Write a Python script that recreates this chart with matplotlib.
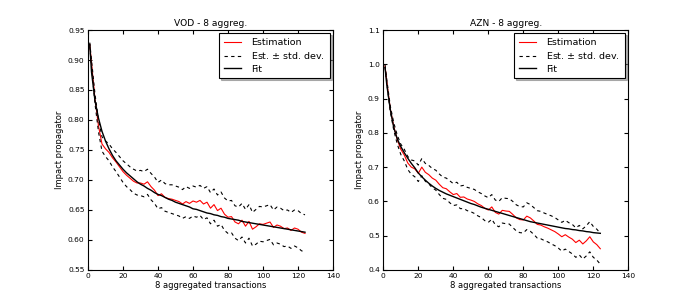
import numpy as np
import matplotlib
matplotlib.use("Agg")
from matplotlib import pyplot as plt

# x positions (aggregated transactions)
lags = [1, 2] + list(range(4, 125, 2))

# VOD
vod_est = [0.926, 0.895, 0.835, 0.790, 0.760, 0.752, 0.746, 0.737, 0.730, 0.722,
           0.714, 0.708, 0.703, 0.698, 0.695, 0.695, 0.693, 0.697, 0.689, 0.683,
           0.674, 0.677, 0.671, 0.669, 0.668, 0.666, 0.664, 0.660, 0.664, 0.661,
           0.665, 0.663, 0.666, 0.660, 0.663, 0.653, 0.659, 0.649, 0.653, 0.643,
           0.638, 0.639, 0.630, 0.627, 0.633, 0.623, 0.631, 0.618, 0.622, 0.627,
           0.626, 0.628, 0.630, 0.621, 0.625, 0.623, 0.619, 0.620, 0.616, 0.620,
           0.618, 0.613, 0.611]
vod_std = [0.003, 0.005, 0.008, 0.010, 0.012, 0.013, 0.014, 0.015, 0.016, 0.017,
           0.018, 0.019, 0.019, 0.020, 0.020, 0.021, 0.021, 0.021, 0.022, 0.022,
           0.022, 0.023, 0.023, 0.023, 0.024, 0.024, 0.024, 0.024, 0.025, 0.025,
           0.025, 0.025, 0.025, 0.026, 0.026, 0.026, 0.026, 0.026, 0.027, 0.027,
           0.027, 0.027, 0.027, 0.028, 0.028, 0.028, 0.028, 0.028, 0.029, 0.029,
           0.029, 0.029, 0.029, 0.029, 0.030, 0.030, 0.030, 0.030, 0.030, 0.030,
           0.031, 0.031, 0.031]
vod_fit = [0.926, 0.880, 0.832, 0.803, 0.781, 0.765, 0.752, 0.741, 0.732, 0.725,
           0.718, 0.712, 0.707, 0.702, 0.697, 0.693, 0.690, 0.686, 0.683, 0.679,
           0.676, 0.674, 0.671, 0.668, 0.666, 0.663, 0.661, 0.659, 0.657, 0.655,
           0.652, 0.651, 0.649, 0.647, 0.645, 0.644, 0.642, 0.641, 0.639, 0.638,
           0.636, 0.635, 0.634, 0.633, 0.631, 0.630, 0.629, 0.628, 0.627, 0.626,
           0.625, 0.624, 0.623, 0.622, 0.621, 0.620, 0.619, 0.618, 0.617, 0.616,
           0.615, 0.614, 0.613]

# AZN
azn_est = [0.995, 0.950, 0.870, 0.818, 0.780, 0.752, 0.735, 0.712, 0.700, 0.695,
           0.682, 0.700, 0.685, 0.678, 0.668, 0.662, 0.650, 0.640, 0.637, 0.628,
           0.620, 0.623, 0.612, 0.613, 0.607, 0.604, 0.600, 0.593, 0.588, 0.580,
           0.575, 0.584, 0.568, 0.563, 0.574, 0.572, 0.571, 0.562, 0.552, 0.547,
           0.546, 0.557, 0.552, 0.543, 0.533, 0.531, 0.526, 0.522, 0.517, 0.512,
           0.505, 0.497, 0.503, 0.496, 0.490, 0.480, 0.487, 0.476, 0.485, 0.497,
           0.482, 0.474, 0.462]
azn_std = [0.003, 0.005, 0.008, 0.011, 0.013, 0.015, 0.017, 0.019, 0.021, 0.023,
           0.024, 0.025, 0.026, 0.027, 0.028, 0.029, 0.030, 0.031, 0.031, 0.032,
           0.032, 0.033, 0.033, 0.034, 0.034, 0.034, 0.035, 0.035, 0.035, 0.036,
           0.036, 0.036, 0.036, 0.037, 0.037, 0.037, 0.037, 0.038, 0.038, 0.038,
           0.038, 0.039, 0.039, 0.039, 0.040, 0.040, 0.040, 0.040, 0.041, 0.041,
           0.041, 0.042, 0.042, 0.042, 0.043, 0.043, 0.043, 0.044, 0.044, 0.044,
           0.045, 0.045, 0.045]
azn_fit = [0.990, 0.940, 0.868, 0.815, 0.782, 0.760, 0.742, 0.726, 0.711, 0.698,
           0.683, 0.672, 0.662, 0.653, 0.645, 0.638, 0.632, 0.627, 0.622, 0.618,
           0.614, 0.610, 0.606, 0.602, 0.598, 0.594, 0.591, 0.587, 0.583, 0.580,
           0.577, 0.574, 0.571, 0.568, 0.565, 0.562, 0.559, 0.556, 0.553, 0.550,
           0.547, 0.544, 0.541, 0.539, 0.537, 0.535, 0.533, 0.531, 0.529, 0.527,
           0.525, 0.523, 0.521, 0.520, 0.518, 0.517, 0.515, 0.514, 0.512, 0.511,
           0.509, 0.508, 0.507]

panels = [
    ("VOD - 8 aggreg.", vod_est, vod_std, vod_fit, (0.55, 0.95), np.arange(0.55, 0.951, 0.05)),
    ("AZN - 8 aggreg.", azn_est, azn_std, azn_fit, (0.4, 1.1), np.arange(0.4, 1.101, 0.1)),
]

plt.rcParams['font.family'] = 'DejaVu Sans'
plt.rcParams['xtick.direction'] = 'in'
plt.rcParams['ytick.direction'] = 'in'
plt.rcParams['xtick.top'] = True
plt.rcParams['ytick.right'] = True
plt.rcParams['xtick.major.size'] = 3
plt.rcParams['ytick.major.size'] = 3
plt.rcParams['xtick.labelsize'] = 5.4
plt.rcParams['ytick.labelsize'] = 5.4
plt.rcParams['axes.linewidth'] = 0.8

fig = plt.figure(figsize=(6.99, 3.0), dpi=100)
lefts = [88 / 699, 383.3 / 699]

for left, (title, est, std, fit, ylim, yticks) in zip(lefts, panels):
    ax = fig.add_axes([left, 0.1, 245 / 699, 0.8])
    est = np.array(est)
    std = np.array(std)
    ax.plot(lags, est, color='red', lw=0.8, label='Estimation')
    ax.plot(lags, est + std, color='black', lw=0.8, dashes=(3, 3), label='Est. $\\pm$ std. dev.')
    ax.plot(lags, est - std, color='black', lw=0.8, dashes=(3, 3))
    ax.plot(lags, fit, color='black', lw=1.0, label='Fit')
    ax.set_xlim(0, 140)
    ax.set_ylim(*ylim)
    ax.set_xticks(range(0, 141, 20))
    ax.set_yticks(yticks)
    ax.tick_params(pad=2.5)
    ax.set_title(title, fontsize=6.6, pad=3)
    ax.set_xlabel('8 aggregated transactions', fontsize=6.0, labelpad=1)
    ax.set_ylabel('Impact propagator', fontsize=6.0, labelpad=3)
    leg = ax.legend(loc='upper right', fontsize=6.8, shadow={'color': '0.45', 'ox': 1.5, 'oy': -1.5},
                    fancybox=False, framealpha=1, edgecolor='black', handlelength=1.8,
                    handletextpad=1.1, borderpad=0.5, borderaxespad=0.35, labelspacing=0.35)
    leg.get_frame().set_linewidth(0.8)

fig.savefig('out.png', dpi=100)
